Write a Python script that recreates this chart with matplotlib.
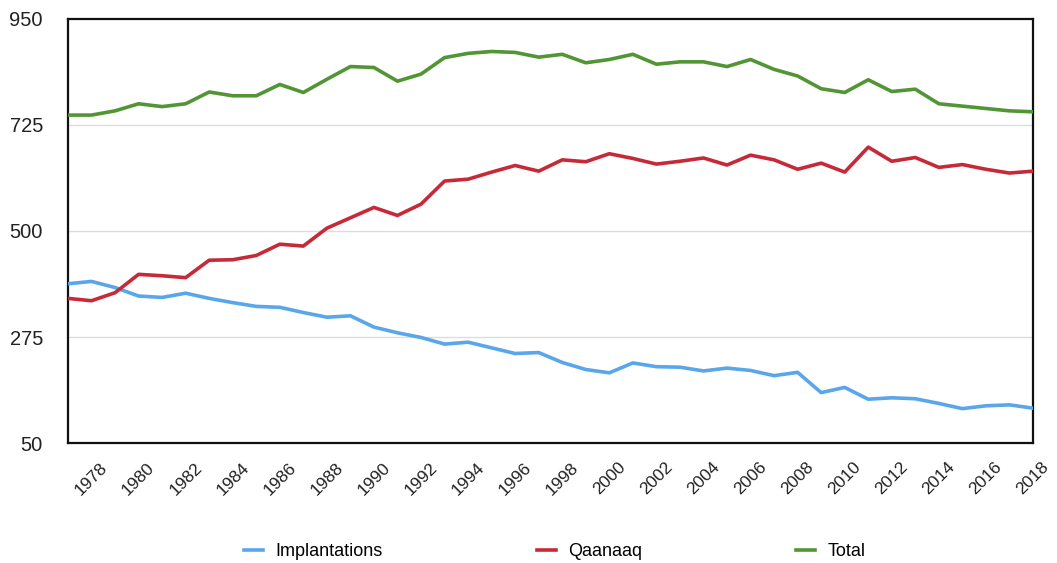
import matplotlib.pyplot as plt
import numpy as np

plt.rcParams['font.family'] = ['Liberation Sans', 'DejaVu Sans']

# data
years = list(range(1977, 2019))

implantations = [388, 393, 380, 362, 359, 368, 357, 348, 340, 338,
                 327, 317, 320, 296, 284, 274, 260, 264, 252, 240,
                 242, 221, 206, 199, 220, 212, 211, 203, 209, 204,
                 193, 200, 157, 168, 143, 146, 144, 134, 123, 129,
                 131, 124]

qaanaaq = [357, 352, 369, 408, 405, 401, 438, 439, 448, 472,
           468, 506, 528, 550, 533, 557, 606, 610, 625, 639,
           627, 651, 647, 664, 654, 642, 648, 655, 640, 661,
           651, 631, 644, 625, 678, 648, 656, 635, 641, 631,
           623, 627]

total = [746, 746, 755, 770, 764, 770, 795, 787, 787, 811,
         794, 822, 849, 847, 818, 833, 868, 877, 881, 879,
         869, 875, 857, 864, 875, 854, 859, 859, 849, 864,
         843, 829, 802, 794, 821, 796, 801, 770, 765, 760,
         755, 753]

y_ticks = [50, 275, 500, 725, 950]
x_ticks = list(range(1978, 2019, 2))

series = [("Implantations", implantations, "#5aa6ea"),
          ("Qaanaaq", qaanaaq, "#c62a38"),
          ("Total", total, "#529535")]

fig = plt.figure(figsize=(10.57, 5.63), dpi=100)
ax = fig.add_axes([0.0643, 0.2131, 0.9130, 0.7532])

for name, vals, col in series:
    ax.plot(years, vals, color=col, linewidth=2.6, label=name,
            solid_joinstyle='round', zorder=3)

ax.set_xlim(1977, 2018)
ax.set_ylim(50, 950)
ax.set_yticks(y_ticks)
ax.set_yticklabels([str(v) for v in y_ticks], fontsize=14.5, color="#222222")
ax.set_xticks(x_ticks)
ax.set_xticklabels([str(v) for v in x_ticks], rotation=45, ha='center',
                   fontsize=12.5, color="#222222")
ax.tick_params(axis='both', length=0)
ax.tick_params(axis='x', pad=12)
ax.tick_params(axis='y', pad=18)

for v in y_ticks[1:-1]:
    ax.axhline(v, color="#dddddd", linewidth=1, zorder=1)

for s in ax.spines.values():
    s.set_color("#111111")
    s.set_linewidth(1.6)

fig.legend(loc='center', bbox_to_anchor=(0.525, 0.02), ncol=3, frameon=False,
           fontsize=13, handlelength=1.05, handletextpad=0.72,
           columnspacing=8.5)

fig.savefig("out.png", dpi=100)
